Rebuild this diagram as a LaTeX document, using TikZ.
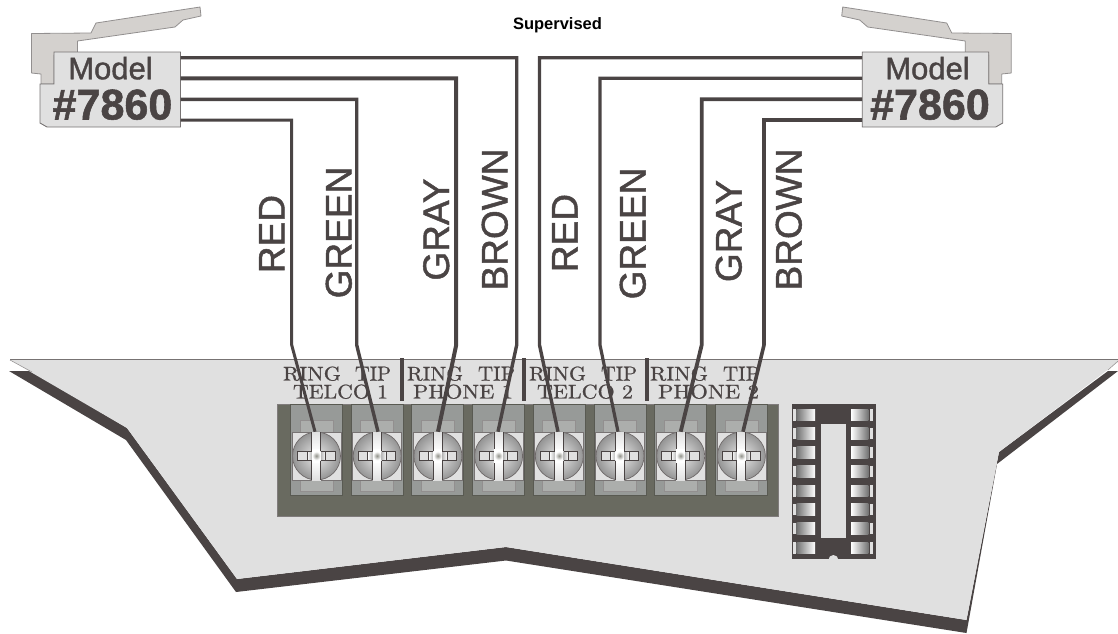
\documentclass[tikz,border=0pt]{standalone}
\usepackage{graphicx}
\usepackage{fontspec}
\newfontfamily\arial{Liberation Sans}
\newfontfamily\arialheavy[FakeBold=1.3]{Liberation Sans}
\newfontfamily\serheavy[FakeBold=0.8]{Latin Modern Roman}
\definecolor{ink}{HTML}{4A4444}
\definecolor{boardc}{HTML}{E0E0E0}
\definecolor{blockc}{HTML}{696A60}
\definecolor{colc}{HTML}{979A98}
\definecolor{tabc}{HTML}{ACAEAC}
\definecolor{hookc}{HTML}{D4D1CE}
\newcommand\fitlab[2]{\resizebox{#1pt}{14pt}{\serheavy #2}}
\tikzset{
  wire/.style={draw=ink,line width=#1,line join=miter},
  wire/.default=3.4,
  colorlab/.style={font=\arialheavy\fontsize{37}{37}\selectfont,text=ink,rotate=90,inner sep=0pt,text height=27pt,text depth=0pt},
  serlab/.style={text=ink,inner sep=0pt},
  modeltxt/.style={font=\arialheavy\fontsize{31}{31}\selectfont,text=ink,inner sep=0pt,text height=22.5pt,text depth=0pt},
  numtxt/.style={font=\arialheavy\bfseries\fontsize{43}{43}\selectfont,text=ink,inner sep=0pt,text height=31pt,text depth=0pt},
  termcol/.style={draw=blockc!85!black,line width=1pt,fill=colc,minimum width=52pt,minimum height=91pt,inner sep=0pt},
  tabbox/.style={draw=ink!60,line width=.8pt,fill=tabc},
  sepbar/.style={fill=ink,draw=none},
  plugbody/.style={fill=boardc,draw=ink!75,line width=.9pt},
  hook/.style={fill=hookc,draw=ink!60,line width=.8pt,line join=round},
  pad/.style={draw=none}
}
\begin{document}
\begin{tikzpicture}[x=1pt,y=-1pt]
\useasboundingbox (0,0) rectangle (1118,633);
% board shadow and board
\fill[ink] (9,371) -- (32,371) -- (127,428) -- (237,579) -- (506,547) -- (966.5,620) -- (999,452) -- (1108,371) -- (1118,371) -- (997,464) -- (966.5,633) -- (506,560.5) -- (236,592) -- (126,440) -- cycle;
\fill[boardc] (10,360) -- (127,428) -- (237,579) -- (506,547) -- (966.5,620) -- (999,452) -- (1118,362) -- (1118,360) -- cycle;
\draw[ink!75,line width=.9pt] (10,359.7) -- (1118,359.7);
\draw[ink!60,line width=.5pt] (10,360) -- (32,372);
\draw[ink!60,line width=.5pt] (1118,361) -- (1108,370);
% terminal block
\fill[blockc] (277.3,404) rectangle (778,516.5);
\draw[ink!70,line width=.6pt] (277.3,404) rectangle (778,516.5);
\foreach \i/\c in {1/316.5,2/377.2,3/437.9,4/498.6,5/559.3,6/620,7/680.7,8/741.4}{
  \node[termcol] (t\i) at (\c,449.5) {};
  \begin{scope}[shift={(\c,0)}]
    \draw[tabbox] (-16.5,420) rectangle (16.5,432);
    \draw[tabbox] (-16.5,480) rectangle (16.5,491.7);
    \fill[boardc] (-24.5,432) rectangle (24.5,480);
    \shade[inner color=boardc!70!white,outer color=black!42] (0,456) circle[radius=24];
    \draw[ink!80,line width=.7pt] (0,456) circle[radius=24];
    \draw[ink!75,line width=.8pt] (-24.5,432) rectangle (24.5,480);
    % vertical arm
    \shade[top color=boardc,middle color=black!16,bottom color=white] (-4.7,432) rectangle (4.3,451);
    \shade[top color=white,bottom color=boardc] (-4.7,460.5) rectangle (4.3,480);
    \draw[ink,line width=.8pt] (-4.7,432) -- (-4.7,451) (4.3,432) -- (4.3,451) (-4.7,460.5) -- (-4.7,480) (4.3,460.5) -- (4.3,480);
    % horizontal arm
    \fill[boardc] (-19,451) rectangle (18.5,460.5);
    \shade[left color=white,right color=black!28] (-9.5,451) rectangle (-4.7,460.5);
    \shade[left color=black!28,right color=white] (4.3,451) rectangle (9,460.5);
    \draw[ink,line width=.8pt] (-4.7,451) -| (-19,460.5) -- (-4.7,460.5) (4.3,451) -| (18.5,460.5) -- (4.3,460.5);
    \draw[ink,line width=.8pt] (-9.5,451) -- (-9.5,460.5) (9,451) -- (9,460.5);
    % hub
    \fill[white] (-4.3,449) rectangle (3.9,462.5);
    \shade[inner color=blockc!75,outer color=white] (-4.3,451.5) rectangle (3.9,460);
  \end{scope}
}
% IC socket
\fill[ink] (791.7,404) rectangle (875.7,559.3);
\fill[boardc] (821,424.3) rectangle (845.7,538.3);
\begin{scope}
  \clip (791.7,404) rectangle (875.7,559.3);
  \fill[boardc] (833.4,560) circle[radius=5];
\end{scope}
\foreach \y in {409,427.8,446.7,465.7,485,503.6,522.7,542}{
  \shade[pad,left color=black!55,right color=white] (796.7,\y) rectangle (815,\y+11.5);
  \shade[pad,left color=white,right color=black!55] (851,\y) rectangle (868.3,\y+11.5);
  \fill[boardc] (793.3,\y) rectangle (796,\y+11.5);
  \fill[boardc] (870,\y) rectangle (872.7,\y+11.5);
}
% terminal legends
\node[serlab] (ring1) at (312,373.7) {\fitlab{58}{RING}};
\node[serlab] (tip1) at (373,373.7) {\fitlab{36}{TIP}};
\node[serlab] (telco1) at (340.5,391.7) {\fitlab{95}{TELCO 1}};
\node[serlab] (ring2) at (435,373.7) {\fitlab{56}{RING}};
\node[serlab] (tip2) at (496.5,373.7) {\fitlab{37}{TIP}};
\node[serlab] (phone1) at (463,391.7) {\fitlab{100}{PHONE 1}};
\node[serlab] (ring3) at (557.5,373.7) {\fitlab{57}{RING}};
\node[serlab] (tip3) at (619,373.7) {\fitlab{36}{TIP}};
\node[serlab] (telco2) at (585,391.7) {\fitlab{96}{TELCO 2}};
\node[serlab] (ring4) at (679,373.7) {\fitlab{58}{RING}};
\node[serlab] (tip4) at (741.5,373.7) {\fitlab{37}{TIP}};
\node[serlab] (phone2) at (708.5,391.7) {\fitlab{101}{PHONE 2}};
\foreach \x in {402,524,647}{\fill[sepbar] (\x-1.8,358) rectangle (\x+1.8,400.7);}
% plugs
\draw[hook] (31.5,33.5) -- (91,33) -- (96,23) -- (200,7) -- (201,16) -- (183,20) -- (175,27) -- (77.5,41) -- (77.5,55) -- (54,55) -- (54,84) -- (41,84) -- (41,74) -- (31.5,73) -- cycle;
\draw[plugbody] (54,52) -- (180.5,52) -- (180.5,127) -- (47,127) -- (40,123) -- (40,84) -- (54,84) -- cycle;
\begin{scope}[xscale=-1,xshift=-1042.7pt]
\draw[hook] (31.5,33.5) -- (91,33) -- (96,23) -- (200,7) -- (201,16) -- (183,20) -- (175,27) -- (77.5,41) -- (77.5,55) -- (54,55) -- (54,84) -- (41,84) -- (41,74) -- (31.5,73) -- cycle;
\draw[plugbody] (54,52) -- (180.5,52) -- (180.5,127) -- (47,127) -- (40,123) -- (40,84) -- (54,84) -- cycle;
\end{scope}
\node[modeltxt] (mdlL) at (110.5,68) {Model};
\node[numtxt] (numL) at (112.5,104) {\#7860};
\node[modeltxt] (mdlR) at (927.5,68) {Model};
\node[numtxt] (numR) at (930,104) {\#7860};
% named ends of the wires
\foreach \n/\y in {1/57.7,2/78.3,3/99.3,4/120}{
  \coordinate (pl\n) at (180.5,\y);
  \coordinate (pr\n) at (862.2,\y);
}
\foreach \n/\x/\e in {1/291.7/315,2/356.7/378,3/456.2/438,4/516.7/498,5/539.5/558,6/600/618,7/701.7/680.7,8/764/743}{
  \coordinate (b\n) at (\x,345);
  \coordinate (e\n) at (\e,431.7);
}
\draw[wire=3] (pl4) -| (b1) -- (e1);
\draw[wire=3.4] (pl3) -| (b2) -- (e2);
\draw[wire=4] (pl2) -| (b3) -- (e3);
\draw[wire=3.4] (pl1) -| (b4) -- (e4);
\draw[wire=3.4] (pr1) -| (b5) -- (e5);
\draw[wire=3.2] (pr2) -| (b6) -- (e6);
\draw[wire=3.8] (pr3) -| (b7) -- (e7);
\draw[wire=3.6] (pr4) -| (b8) -- (e8);
% wire colour names
\node[colorlab] (lred) at (271,234) {RED};
\node[colorlab] (lgreen) at (338,232.5) {GREEN};
\node[colorlab] (lgray) at (435.5,229.5) {GRAY};
\node[colorlab] (lbrown) at (494,219.5) {BROWN};
\node[colorlab] (rred) at (564,233) {RED};
\node[colorlab] (rgreen) at (632,233.5) {GREEN};
\node[colorlab] (rgray) at (728,231) {GRAY};
\node[colorlab] (rbrown) at (788,219.5) {BROWN};
\node[font=\arial\bfseries\fontsize{16.5}{16.5}\selectfont,text=black,inner sep=0pt] (title) at (557.5,25.5) {Supervised};
\end{tikzpicture}
\end{document}
